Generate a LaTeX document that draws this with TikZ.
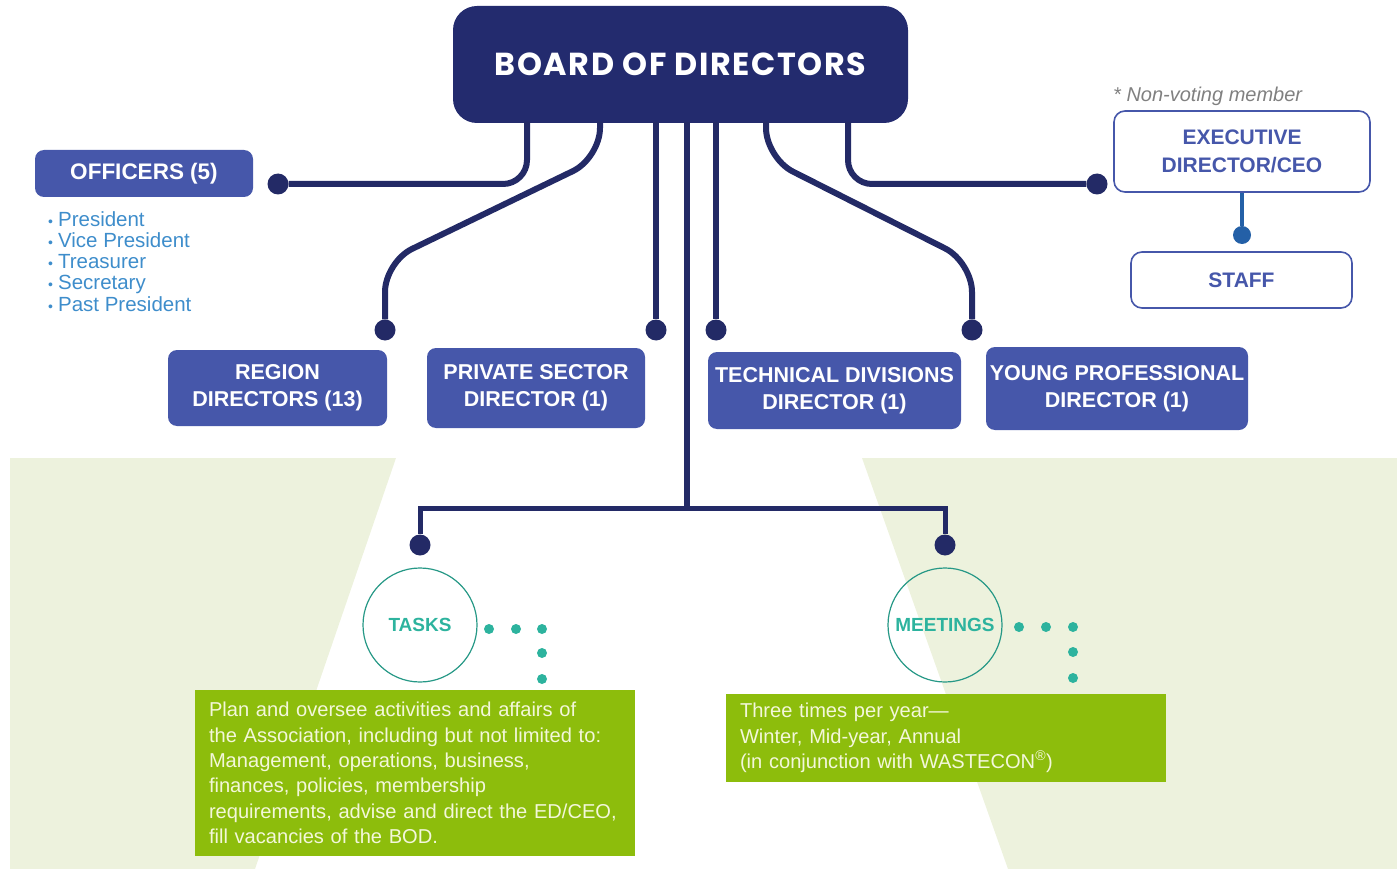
\documentclass[tikz,border=0pt]{standalone}
\usepackage{fontspec}
\setmainfont{Liberation Sans}
\newfontfamily\titlefont{Poppins}[LetterSpace=5]
\usetikzlibrary{positioning}

\definecolor{boardnavy}{HTML}{232B6E}
\definecolor{linenavy}{HTML}{232A66}
\definecolor{boxblue}{HTML}{4657AA}
\definecolor{listblue}{HTML}{3E8DCB}
\definecolor{teal}{HTML}{2DB39E}
\definecolor{leaf}{HTML}{8DBD0C}
\definecolor{leaftext}{HTML}{F3F7DA}
\definecolor{bggreen}{HTML}{EDF2DD}
\definecolor{staffline}{HTML}{2460A7}

\newcommand{\dotitem}{{\fontsize{14}{14}\selectfont•}\hspace{5pt}}

\tikzset{
  dirbox/.style={rectangle, rounded corners=9pt, fill=boxblue, text=white,
    font=\fontsize{21.5}{27}\selectfont\bfseries, align=center, inner sep=0pt},
  outbox/.style={rectangle, rounded corners=11pt, draw=boxblue, line width=1.6pt,
    fill=white, text=boxblue, font=\fontsize{21}{28}\selectfont\bfseries,
    align=center, inner sep=0pt},
  link/.style={draw=linenavy, line width=6pt, rounded corners=24pt},
  enddot/.style={circle, fill=linenavy, minimum size=21pt, inner sep=0pt},
  ring/.style={circle, draw=teal!85!black, line width=1.2pt, minimum size=114pt,
    inner sep=0pt, text=teal, font=\fontsize{19}{19}\selectfont\bfseries},
  tdot/.style={circle, fill=teal, minimum size=10pt, inner sep=0pt},
  leafbox/.style={rectangle, fill=leaf, text=leaftext, align=left,
    font=\fontsize{20.1}{25.3}\selectfont, inner xsep=14pt, text width=412pt}
}

\begin{document}
\begin{tikzpicture}[x=1pt, y=-1pt]
    \useasboundingbox (0,0) rectangle (1397,869);

    \fill[bggreen] (10,458) -- (396,458) -- (255,869) -- (10,869) -- cycle;
    \fill[bggreen] (862,458) -- (1397,458) -- (1397,869) -- (1008,869) -- cycle;

    \node[rectangle, rounded corners=24pt, fill=boardnavy, text=white,
          minimum width=455pt, minimum height=117pt, inner sep=0pt,
          font=\titlefont\fontsize{31.8}{31.8}\selectfont\bfseries] (board) at (680.5,64.5) {BOARD OF DIRECTORS};

    \node[dirbox, minimum width=218pt, minimum height=47pt,
          font=\fontsize{22.5}{27}\selectfont\bfseries] (officers) at (144,173.5) {OFFICERS (5)};
    \node[anchor=north west, align=left, text=listblue, inner sep=0pt,
          font=\fontsize{20.5}{21.3}\selectfont] (offlist) at (48,211)
          {\dotitem President\\
           \dotitem Vice President\\
           \dotitem Treasurer\\
           \dotitem Secretary\\
           \dotitem Past President};

    \node[dirbox, minimum width=219pt, minimum height=76pt] (region) at (277.5,388) {REGION\\DIRECTORS (13)};
    \node[dirbox, minimum width=218pt, minimum height=80pt] (private) at (536,388) {PRIVATE SECTOR\\DIRECTOR (1)};
    \node[dirbox, minimum width=253pt, minimum height=77pt] (technical) at (834.5,390.5) {TECHNICAL DIVISIONS\\DIRECTOR (1)};
    \node[dirbox, minimum width=262pt, minimum height=83pt] (young) at (1117,388.5) {YOUNG PROFESSIONAL\\DIRECTOR (1)};

    \node[outbox, minimum width=256pt, minimum height=81pt] (exec) at (1242,151.5) {EXECUTIVE\\DIRECTOR/CEO};
    \node[anchor=south west, inner sep=0pt, text=gray,
          font=\fontsize{20}{20}\selectfont\itshape] (nonvoting) at (1113,106) {* Non-voting member};
    \node[outbox, minimum width=221pt, minimum height=56pt] (staff) at (1241.5,280) {STAFF};

    \node[ring] (tasks) at (420,625) {TASKS};
    \node[ring] (meetings) at (945,625) {MEETINGS};

    \node[leafbox, minimum height=166pt] (taskbox) at (415,773)
          {Plan and oversee activities and affairs of\\
           the Association, including but not limited to:\\
           Management, operations, business,\\
           finances, policies, membership\\
           requirements, advise and direct the ED/CEO,\\
           fill vacancies of the BOD.};
    \node[leafbox, minimum height=88pt] (meetbox) at (946,738)
          {Three times per year—\\
           Winter, Mid-year, Annual\\
           (in conjunction with WASTECON\textsuperscript{®})};

    % end dots of the links
    \node[enddot] (doff) at (278,184) {};
    \node[enddot] (dreg) at (385,330) {};
    \node[enddot] (dpriv) at (656,330) {};
    \node[enddot] (dtech) at (716,330) {};
    \node[enddot] (dyoung) at (972,330) {};
    \node[enddot] (dexec) at (1097,184) {};
    \node[enddot] (dtasks) at (420,545) {};
    \node[enddot] (dmeet) at (945,545) {};
    \node[circle, fill=staffline, minimum size=18pt, inner sep=0pt] (dstaff) at (1242,235) {};

    \coordinate (b1) at (527,122);
    \coordinate (b2) at (600,122);
    \coordinate (b3) at (656,122);
    \coordinate (b4) at (687,122);
    \coordinate (b5) at (716,122);
    \coordinate (b6) at (766,122);
    \coordinate (b7) at (848,122);
    \coordinate (fork) at (687,508);

    \draw[link] (b1) -- (b1 |- doff) -- (doff);
    \draw[link, rounded corners=30pt] (b2) -- (600,158) -- (385,262) -- (dreg);
    \draw[link] (b3) -- (dpriv);
    \draw[link] (b5) -- (dtech);
    \draw[link, rounded corners=30pt] (b6) -- (766,158) -- (972,262) -- (dyoung);
    \draw[link] (b7) -- (b7 |- dexec) -- (dexec);
    \draw[link] (b4) -- (fork);
    \draw[link, rounded corners=0pt, line width=5pt] (dtasks) -- (dtasks |- fork) -- (dmeet |- fork) -- (dmeet);
    \draw[draw=staffline, line width=4pt] (exec.south) -- (dstaff);

    \foreach \x/\y [count=\i] in {489/629, 516/629, 542/629, 542/653, 542/679}
        \node[tdot] (tt\i) at (\x,\y) {};
    \foreach \x/\y [count=\i] in {1019/627, 1046/627, 1073/627, 1073/652, 1073/678}
        \node[tdot] (mt\i) at (\x,\y) {};
\end{tikzpicture}
\end{document}
